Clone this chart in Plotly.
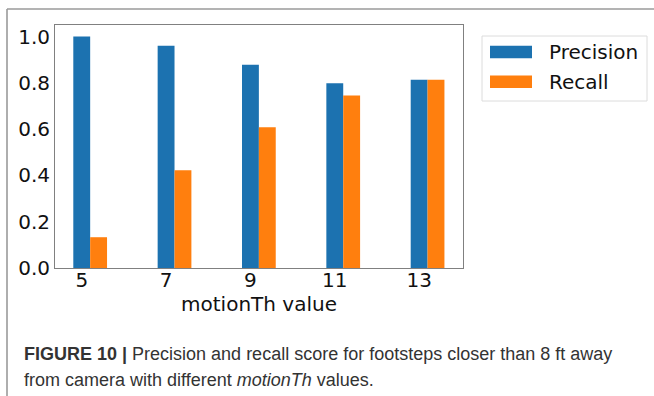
import plotly.graph_objects as go

# motionTh thresholds and detection scores
motion_th = ["5", "7", "9", "11", "13"]
precision = [1.00, 0.96, 0.878, 0.798, 0.813]
recall = [0.133, 0.422, 0.608, 0.745, 0.813]
series_names = ["Precision", "Recall"]
series_colors = ["#1c72b0", "#ff7f0e"]
y_ticks = [0.0, 0.2, 0.4, 0.6, 0.8, 1.0]

W, H = 654, 396
L, R, T, B = 55, 191, 25, 128
pw, ph = W - L - R, H - T - B

def px_x(x):
    return (x - L) / pw

def px_y(y):
    return (H - B - y) / ph

idx = list(range(len(motion_th)))
bar_w = 0.2

fig = go.Figure()
fig.add_trace(go.Bar(x=idx, y=precision, name=series_names[0], width=bar_w,
                     offset=-bar_w / 2, marker=dict(color=series_colors[0], line=dict(width=0)),
                     showlegend=False))
fig.add_trace(go.Bar(x=idx, y=recall, name=series_names[1], width=bar_w,
                     offset=bar_w / 2, marker=dict(color=series_colors[1], line=dict(width=0)),
                     showlegend=False))

tick_font = dict(family="DejaVu Sans", size=20, color="#111")
axis_line = "#808080"

fig.update_layout(
    width=W, height=H,
    margin=dict(l=L, r=R, t=T, b=B, pad=0),
    paper_bgcolor="white", plot_bgcolor="white",
    barmode="overlay",
    xaxis=dict(range=[-0.317, 4.52], tickmode="array", tickvals=idx, ticktext=motion_th,
               showgrid=False, zeroline=False, showline=True, mirror=True,
               linecolor=axis_line, linewidth=1, ticks="", tickfont=tick_font,
               ticklabelstandoff=-6,
               title=dict(text="motionTh value", font=tick_font, standoff=0)),
    yaxis=dict(range=[0, 1.05], tickmode="array", tickvals=y_ticks,
               ticktext=[f"{v:.1f}" for v in y_ticks],
               showgrid=False, zeroline=False, showline=True, mirror=True,
               linecolor=axis_line, linewidth=1, ticks="", tickfont=tick_font),
)

shapes = []
annotations = []

# outer figure frame (top and left rules)
shapes.append(dict(type="line", xref="paper", yref="paper", x0=px_x(7), x1=px_x(654),
                   y0=px_y(9), y1=px_y(9), line=dict(color="#9a9a9a", width=1.6)))
shapes.append(dict(type="line", xref="paper", yref="paper", x0=px_x(7), x1=px_x(7),
                   y0=px_y(9), y1=px_y(396), line=dict(color="#9a9a9a", width=1.6)))

# legend box with wide swatches
shapes.append(dict(type="rect", xref="paper", yref="paper", x0=px_x(482), x1=px_x(647),
                   y0=px_y(36), y1=px_y(101), fillcolor="white",
                   line=dict(color="#dcdcdc", width=1)))
for i, (name, col) in enumerate(zip(series_names, series_colors)):
    cy = 52 + i * 29.7
    shapes.append(dict(type="rect", xref="paper", yref="paper", x0=px_x(490), x1=px_x(532),
                       y0=px_y(cy - 6.3), y1=px_y(cy + 6.3), fillcolor=col, line=dict(width=0)))
    annotations.append(dict(xref="paper", yref="paper", x=px_x(547), y=px_y(cy),
                            xanchor="left", yanchor="middle", showarrow=False, text=name,
                            font=dict(family="DejaVu Sans", size=20, color="#111")))

# caption
cap_font = dict(family="Liberation Sans Narrow, Liberation Sans", size=18, color="#333")
annotations.append(dict(xref="paper", yref="paper", x=px_x(22), y=px_y(354),
                        xanchor="left", yanchor="middle", showarrow=False, font=cap_font,
                        text="<b>FIGURE 10 |</b> Precision and recall score for footsteps closer than 8 ft away"))
annotations.append(dict(xref="paper", yref="paper", x=px_x(22), y=px_y(380),
                        xanchor="left", yanchor="middle", showarrow=False, font=cap_font,
                        text="from camera with different <i>motionTh</i> values."))

fig.update_layout(shapes=shapes, annotations=annotations)
fig.write_html("out.html")
